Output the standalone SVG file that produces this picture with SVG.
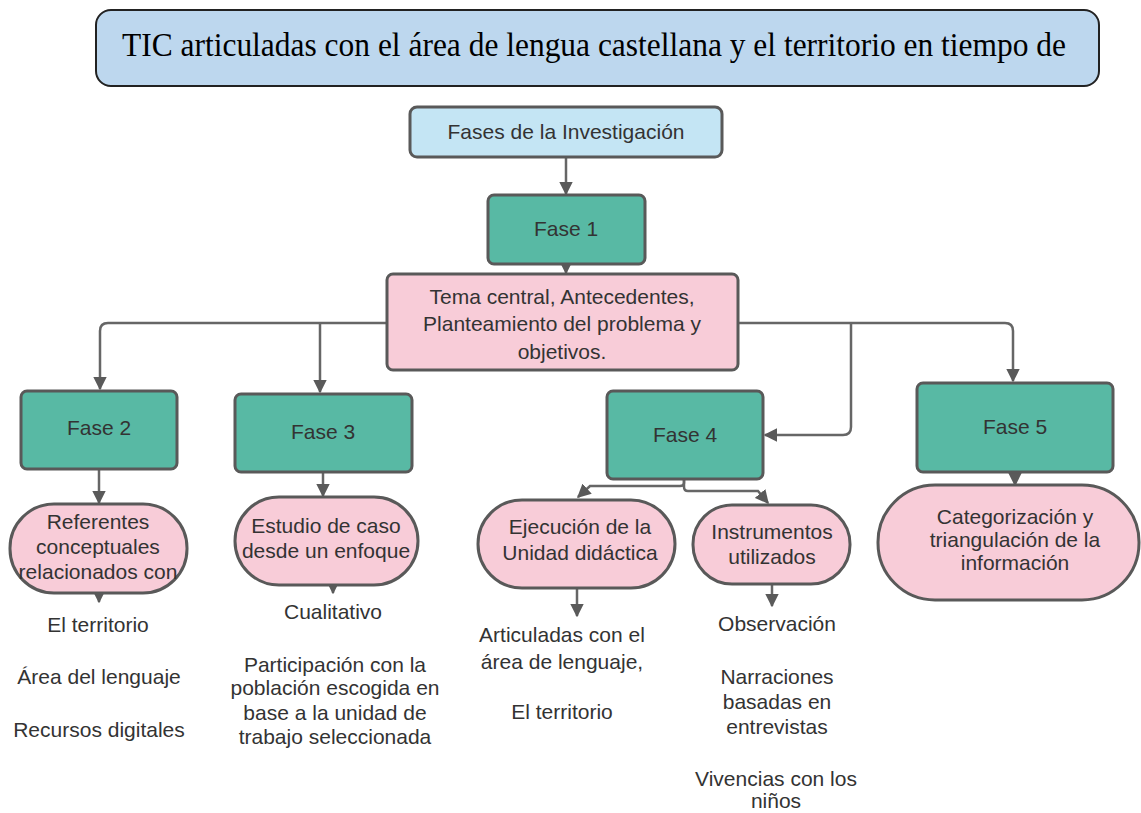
<svg xmlns="http://www.w3.org/2000/svg" width="1141" height="813" viewBox="0 0 1141 813">
<style>
.t{font-family:"Liberation Sans",Arial,sans-serif;font-size:21px;fill:#333;text-anchor:middle}
.teal{fill:#58b9a4;stroke:#595959;stroke-width:3}
.pink{fill:#f8ccd8;stroke:#595959;stroke-width:3}
.blue{fill:#c4e5f4;stroke:#595959;stroke-width:3}
.c{fill:none;stroke:#666;stroke-width:2.5}
</style>
<defs>
<marker id="ah" viewBox="0 0 10 10" refX="9" refY="5" markerWidth="5.5" markerHeight="5.5" orient="auto" markerUnits="strokeWidth">
<path d="M0,0 L10,5 L0,10 z" fill="#5a5a5a"/>
</marker>
</defs>
<rect width="1141" height="813" fill="#fff"/>
<g id="title">
<rect x="96" y="10" width="1003" height="76" rx="15" fill="#bdd7ee" stroke="#222" stroke-width="2"/>
<text x="122" y="56" font-family="'Liberation Serif','Times New Roman',serif" font-size="34" fill="#000" textLength="944" lengthAdjust="spacingAndGlyphs">TIC articuladas con el área de lengua castellana y el territorio en tiempo de</text>
</g>
<g id="connectors">
<path class="c" d="M566,157 V194" marker-end="url(#ah)"/>
<path class="c" d="M566,262 V273" marker-end="url(#ah)"/>
<path class="c" d="M387,323 H108 Q100,323 100,331 V389" marker-end="url(#ah)"/>
<path class="c" d="M320,323 V392" marker-end="url(#ah)"/>
<path class="c" d="M738,323 H1005 Q1013,323 1013,331 V381" marker-end="url(#ah)"/>
<path class="c" d="M851,323 V427 Q851,435 843,435 H765" marker-end="url(#ah)"/>
<path class="c" d="M99,469 V503" marker-end="url(#ah)"/>
<path class="c" d="M323,472 V496" marker-end="url(#ah)"/>
<path class="c" d="M684,479 V483 Q684,486 680,486 H590 L578,497" marker-end="url(#ah)"/>
<path class="c" d="M684,479 V487 Q684,491 688,491 H758 L768,503" marker-end="url(#ah)"/>
<path class="c" d="M1015,470 V485" marker-end="url(#ah)"/>
<path class="c" d="M99,586 V602" marker-end="url(#ah)"/>
<path class="c" d="M333,575 V593" marker-end="url(#ah)"/>
<path class="c" d="M577,588 V616" marker-end="url(#ah)"/>
<path class="c" d="M772,584 V606" marker-end="url(#ah)"/>
</g>
<g id="fases">
<rect class="blue" x="410" y="107" width="312" height="50" rx="7"/>
<text class="t" x="566" y="139">Fases de la Investigación</text>
</g>
<g id="fase1">
<rect class="teal" x="488" y="195" width="157" height="69" rx="6"/>
<text class="t" x="566" y="236">Fase 1</text>
</g>
<g id="tema">
<rect class="pink" x="387" y="274" width="351" height="96" rx="6"/>
<text class="t" x="562" y="304">Tema central, Antecedentes,</text>
<text class="t" x="562" y="331">Planteamiento del problema y</text>
<text class="t" x="562" y="359">objetivos.</text>
</g>
<g id="fase2">
<rect class="teal" x="21" y="391" width="156" height="78" rx="6"/>
<text class="t" x="99" y="435">Fase 2</text>
</g>
<g id="fase3">
<rect class="teal" x="235" y="394" width="177" height="78" rx="6"/>
<text class="t" x="323" y="439">Fase 3</text>
</g>
<g id="fase4">
<rect class="teal" x="607" y="391" width="156" height="88" rx="6"/>
<text class="t" x="685" y="442">Fase 4</text>
</g>
<g id="fase5">
<rect class="teal" x="917" y="383" width="196" height="89" rx="6"/>
<text class="t" x="1015" y="434">Fase 5</text>
</g>
<g id="referentes">
<rect class="pink" x="10" y="504" width="177" height="89" rx="44"/>
<text class="t" x="98" y="529">Referentes</text>
<text class="t" x="98" y="554">conceptuales</text>
<text class="t" x="98" y="579">relacionados con</text>
</g>
<g id="estudio">
<rect class="pink" x="235" y="497" width="183" height="88" rx="44"/>
<text class="t" x="326" y="533">Estudio de caso</text>
<text class="t" x="326" y="558">desde un enfoque</text>
</g>
<g id="ejecucion">
<rect class="pink" x="478" y="500" width="197" height="88" rx="44"/>
<text class="t" x="580" y="534">Ejecución de la</text>
<text class="t" x="580" y="560">Unidad didáctica</text>
</g>
<g id="instrumentos">
<rect class="pink" x="693" y="505" width="157" height="79" rx="39"/>
<text class="t" x="772" y="539">Instrumentos</text>
<text class="t" x="772" y="564">utilizados</text>
</g>
<g id="categorizacion">
<rect class="pink" x="878" y="485" width="261" height="115" rx="57"/>
<text class="t" x="1015" y="524">Categorización y</text>
<text class="t" x="1015" y="547">triangulación de la</text>
<text class="t" x="1015" y="570">información</text>
</g>
<g id="f2-items">
<text class="t" x="98" y="632">El territorio</text>
<text class="t" x="99" y="684">Área del lenguaje</text>
<text class="t" x="99" y="737">Recursos digitales</text>
</g>
<g id="f3-items">
<text class="t" x="333" y="619">Cualitativo</text>
<text class="t" x="335" y="672">Participación con la</text>
<text class="t" x="335" y="695">población escogida en</text>
<text class="t" x="335" y="720">base a la unidad de</text>
<text class="t" x="335" y="744">trabajo seleccionada</text>
</g>
<g id="f4a-items">
<text class="t" x="562" y="642">Articuladas con el</text>
<text class="t" x="562" y="669">área de lenguaje,</text>
<text class="t" x="562" y="719">El territorio</text>
</g>
<g id="f4b-items">
<text class="t" x="777" y="631">Observación</text>
<text class="t" x="777" y="684">Narraciones</text>
<text class="t" x="777" y="709">basadas en</text>
<text class="t" x="777" y="734">entrevistas</text>
<text class="t" x="776" y="786">Vivencias con los</text>
<text class="t" x="776" y="808">niños</text>
</g>
</svg>
